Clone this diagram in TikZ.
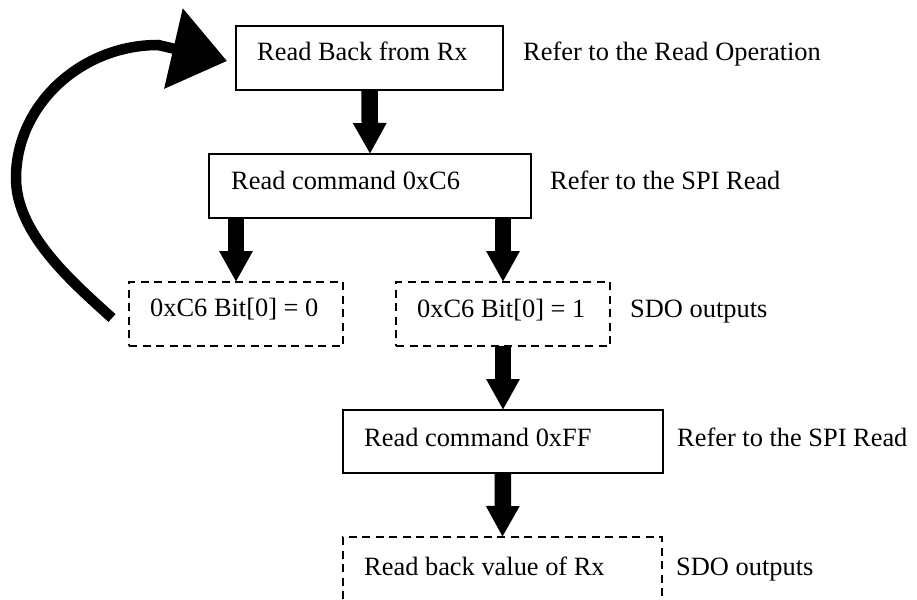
\documentclass[tikz,border=0pt]{standalone}
\usepackage{fontspec}
\setmainfont{Liberation Serif}
\usetikzlibrary{arrows.meta}
\tikzset{
  txt/.style={font=\fontsize{26.4pt}{31pt}\selectfont, anchor=base west, inner sep=0pt},
  box/.style={draw, line width=2pt, outer sep=0pt, inner sep=0pt, anchor=north west,
    minimum height=64pt},
  dbox/.style={box, dash pattern=on 8pt off 5.5pt},
  fat/.style={line width=16.5pt, -{Triangle[length=31pt,width=31.5pt]}},
  looparrow/.style={line width=10.5pt, -{Triangle[length=55pt,width=80pt]}},
}
\begin{document}
\begin{tikzpicture}[x=1pt,y=-1pt]
\useasboundingbox (0,0) rectangle (917,599);
\clip (0,0) rectangle (917,599);

\node[box,  minimum width=267pt] (b1) at (236,26)  {};
\node[box,  minimum width=322pt] (b2) at (209,154) {};
\node[dbox, minimum width=214pt] (b3) at (129,282) {};
\node[dbox, minimum width=214pt] (b4) at (396,282) {};
\node[box,  minimum width=320pt, minimum height=63pt] (b5) at (343,410) {};
\node[dbox, minimum width=319pt] (b6) at (343,537) {};

\node[txt] (t1) at (257,61)  {Read Back from Rx};
\node[txt] (t2) at (231,189) {Read command 0xC6};
\node[txt] (t3) at (150,316) {0xC6 Bit[0] = 0};
\node[txt] (t4) at (417,317) {0xC6 Bit[0] = 1};
\node[txt] (t5) at (364,446) {Read command 0xFF};
\node[txt] (t6) at (364,575) {Read back value of Rx};

\node[txt] (s1) at (523,61)  {Refer to the Read Operation};
\node[txt] (s2) at (550,189) {Refer to the SPI Read};
\node[txt] (s3) at (630,317) {SDO outputs};
\node[txt] (s4) at (677,446) {Refer to the SPI Read};
\node[txt] (s5) at (676,575) {SDO outputs};

\draw[fat] (b1.south) -- (b2.north);
\draw[fat] (b2.south -| b3.north) -- (b3.north);
\draw[fat] (b2.south -| b4.north) -- (b4.north);
\draw[fat] (b4.south) -- (b4.south |- b5.north);
\draw[fat] (b5.south) -- (b6.north);

\coordinate (loopS) at (112,318);
\coordinate (loopE) at (227,61);
\draw[looparrow] (loopS) .. controls (71,281) and (16,233) .. (16,178)
  .. controls (16,105) and (81,45) .. (158,45) -- (loopE);
\end{tikzpicture}
\end{document}
